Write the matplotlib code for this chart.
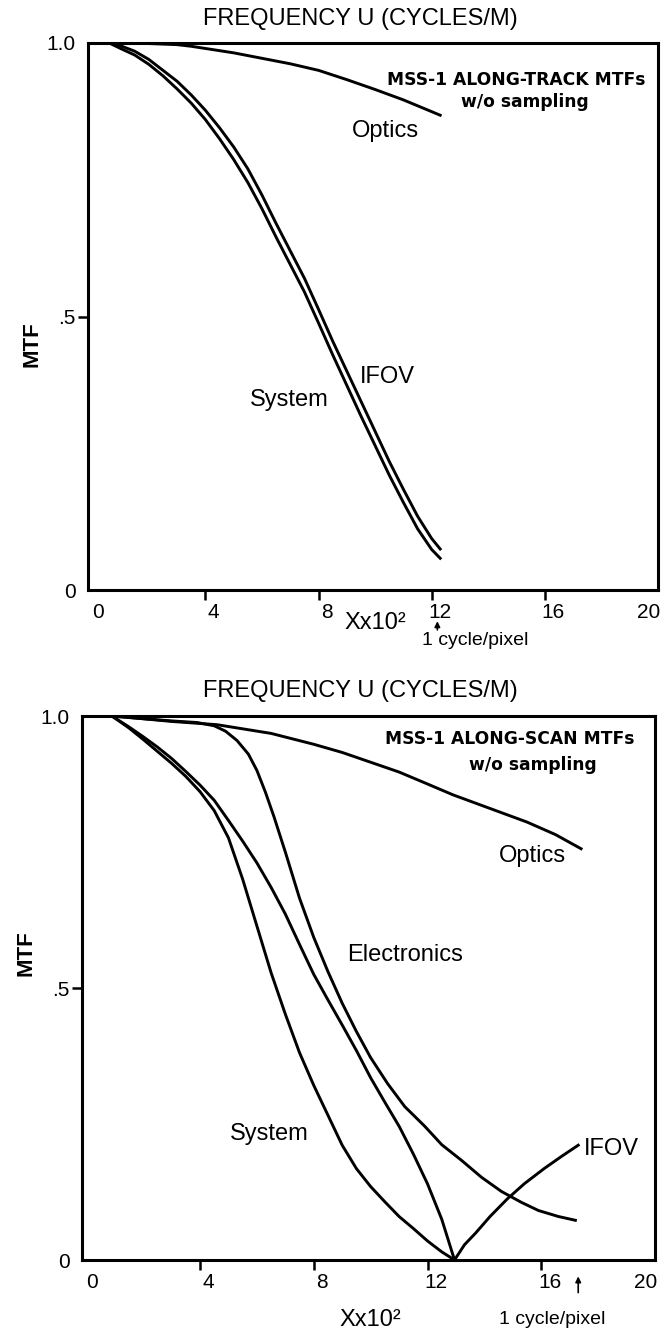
import numpy as np
import matplotlib.pyplot as plt
from matplotlib.transforms import ScaledTranslation

plt.rcParams['font.family'] = ['Liberation Sans', 'DejaVu Sans']

# along-track MTFs (frequency in units of 10^2 cycles/m)
trk_optics_x = [0, 1, 2, 3, 3.5, 4, 5, 6, 7, 8, 9, 10, 11, 12.3]
trk_optics_y = [1.0, 1.0, 0.999, 0.997, 0.994, 0.99, 0.982, 0.972, 0.962, 0.950, 0.933, 0.915, 0.896, 0.868]
trk_x = [0.6, 1.0, 1.5, 2.0, 2.5, 3.0, 3.5, 4.0, 4.5, 5.0, 5.5, 6.0, 6.5,
         7.0, 7.5, 8.0, 8.5, 9.0, 9.5, 10.0, 10.5, 11.0, 11.5, 12.0, 12.3]
trk_ifov_y = [1.0, 0.995, 0.985, 0.970, 0.950, 0.930, 0.905, 0.877, 0.845, 0.810, 0.770, 0.722, 0.670,
              0.620, 0.570, 0.513, 0.455, 0.400, 0.345, 0.290, 0.235, 0.184, 0.135, 0.094, 0.075]
trk_system_y = [1.0, 0.990, 0.978, 0.961, 0.940, 0.916, 0.890, 0.860, 0.825, 0.787, 0.745, 0.697, 0.645,
                0.595, 0.545, 0.488, 0.430, 0.374, 0.318, 0.264, 0.210, 0.160, 0.112, 0.074, 0.058]

# along-scan MTFs
scn_optics_x = [0.9, 2, 3, 4.6, 6.5, 8, 9, 10, 11, 12, 12.9, 14.2, 15.5, 16.5, 17.4]
scn_optics_y = [1.0, 0.995, 0.99, 0.984, 0.968, 0.948, 0.933, 0.915, 0.897, 0.875, 0.855, 0.830, 0.805, 0.782, 0.756]
scn_elec_x = [0.9, 2, 3, 3.9, 4.5, 4.9, 5.3, 5.7, 6.0, 6.3, 6.6, 7.0, 7.5, 8.0, 8.5, 9.0, 9.5, 10.0,
              10.6, 11.2, 11.9, 12.5, 13.2, 13.9, 14.6, 15.3, 15.9, 16.6, 17.2]
scn_elec_y = [1.0, 0.995, 0.991, 0.988, 0.982, 0.972, 0.955, 0.930, 0.900, 0.860, 0.815, 0.750, 0.665, 0.593,
              0.530, 0.472, 0.420, 0.372, 0.324, 0.282, 0.246, 0.212, 0.183, 0.152, 0.126, 0.106, 0.091, 0.080, 0.073]
scn_ifov_x = [0.9, 1.5, 2, 2.5, 3, 3.5, 4, 4.5, 5, 5.5, 6, 6.5, 7, 7.5, 8, 8.5, 9, 9.5, 10, 10.5,
              11, 11.5, 12, 12.5, 12.95, 13.3, 13.7, 14.2, 14.8, 15.4, 16.1, 16.7, 17.3]
scn_ifov_y = [1.0, 0.980, 0.962, 0.943, 0.922, 0.898, 0.873, 0.845, 0.808, 0.770, 0.730, 0.685, 0.636, 0.580,
              0.525, 0.478, 0.432, 0.385, 0.335, 0.290, 0.246, 0.195, 0.140, 0.075, 0.0,
              0.028, 0.050, 0.080, 0.112, 0.140, 0.168, 0.190, 0.211]
scn_system_x = [0.9, 1.5, 2, 2.5, 3, 3.5, 4, 4.5, 5, 5.5, 6, 6.5, 7, 7.5, 8, 8.5, 9, 9.5, 10,
                10.5, 11, 11.5, 12, 12.5, 12.95]
scn_system_y = [1.0, 0.978, 0.957, 0.935, 0.913, 0.889, 0.861, 0.826, 0.776, 0.700, 0.614, 0.528, 0.452,
                0.381, 0.321, 0.266, 0.211, 0.168, 0.135, 0.107, 0.080, 0.058, 0.035, 0.015, 0.0]

xticks = [0, 4, 8, 12, 16, 20]
yticks = [0, 0.5, 1.0]
ytick_labels = ['0', '.5', '1.0']

W, H = 663, 1337
fig = plt.figure(figsize=(W / 100, H / 100), dpi=100)


def box(l, t, r, b):
    return [l / W, 1 - b / H, (r - l) / W, (b - t) / H]


def setup(ax, title_y, mtf_y):
    ax.set_xlim(-0.15, 20)
    ax.set_ylim(0, 1)
    ax.set_xticks(xticks)
    ax.set_xticklabels([str(t) for t in xticks], fontsize=15)
    ax.set_yticks(yticks)
    ax.set_yticklabels(ytick_labels, fontsize=15)
    ax.tick_params(direction='out', length=7, width=1.8, pad=2)
    for s in ax.spines.values():
        s.set_linewidth(2.2)
    # hand-lettered labels sit just right of their ticks
    labs = ax.get_xticklabels()
    for lab in labs[1:-1]:
        lab.set_transform(lab.get_transform() + ScaledTranslation(6 / 72, 0, fig.dpi_scale_trans))
    labs[0].set_transform(labs[0].get_transform() + ScaledTranslation(4 / 72, 0, fig.dpi_scale_trans))
    labs[-1].set_transform(labs[-1].get_transform() + ScaledTranslation(-7 / 72, 0, fig.dpi_scale_trans))
    xt = ax.xaxis.get_major_ticks()
    xt[0].tick1line.set_visible(False)
    xt[-1].tick1line.set_visible(False)
    yt = ax.yaxis.get_major_ticks()
    yt[0].tick1line.set_visible(False)
    yt[-1].tick1line.set_visible(False)
    fig.text(360 / W, 1 - title_y / H, 'FREQUENCY U (CYCLES/M)', fontsize=17, ha='center', va='center')
    ax.set_ylabel('MTF', fontsize=16, fontweight='bold')
    ax.yaxis.set_label_coords(-0.08, mtf_y)


lw = 2.1
txt = dict(fontsize=17, ha='center', va='center')
note = dict(family='DejaVu Sans', fontweight='bold', fontsize=12.3, ha='center', va='center')
small = dict(fontsize=14, ha='left', va='center', clip_on=False)

# along-track panel
ax1 = fig.add_axes(box(88, 43, 658, 590))
setup(ax1, 19, 0.45)
ax1.plot(trk_optics_x, trk_optics_y, color='k', lw=lw)
ax1.plot(trk_x, trk_ifov_y, color='k', lw=lw)
ax1.plot(trk_x, trk_system_y, color='k', lw=lw)
ax1.text(10.35, 0.84, 'Optics', **txt)
ax1.text(10.45, 0.39, 'IFOV', **txt)
ax1.text(6.98, 0.347, 'System', **txt)
ax1.text(15.0, 0.932, 'MSS-1 ALONG-TRACK MTFs', **note)
ax1.text(15.3, 0.892, 'w/o sampling', **note)
ax1.text(10.0, -0.06, 'Xx10²', clip_on=False, **txt)
ax1.annotate('', xy=(12.2, -0.052), xytext=(12.2, -0.078), annotation_clip=False,
             arrowprops=dict(arrowstyle='-|>', color='k', lw=1.2, mutation_scale=8))
ax1.text(11.65, -0.092, '1 cycle/pixel', **small)

# along-scan panel
ax2 = fig.add_axes(box(82, 716, 655, 1260))
setup(ax2, 691, 0.565)
ax2.plot(scn_optics_x, scn_optics_y, color='k', lw=lw)
ax2.plot(scn_elec_x, scn_elec_y, color='k', lw=lw)
ax2.plot(scn_ifov_x, scn_ifov_y, color='k', lw=lw)
ax2.plot(scn_system_x, scn_system_y, color='k', lw=lw)
ax2.text(15.7, 0.742, 'Optics', **txt)
ax2.text(11.2, 0.561, 'Electronics', **txt)
ax2.text(6.45, 0.232, 'System', **txt)
ax2.text(18.45, 0.204, 'IFOV', **txt)
ax2.text(14.9, 0.958, 'MSS-1 ALONG-SCAN MTFs', **note)
ax2.text(15.7, 0.91, 'w/o sampling', **note)
ax2.text(10.0, -0.11, 'Xx10²', clip_on=False, **txt)
ax2.annotate('', xy=(17.3, -0.025), xytext=(17.3, -0.065), annotation_clip=False,
             arrowprops=dict(arrowstyle='-|>', color='k', lw=1.2, mutation_scale=8))
ax2.text(14.5, -0.11, '1 cycle/pixel', **small)

fig.savefig('out.png', dpi=100)
